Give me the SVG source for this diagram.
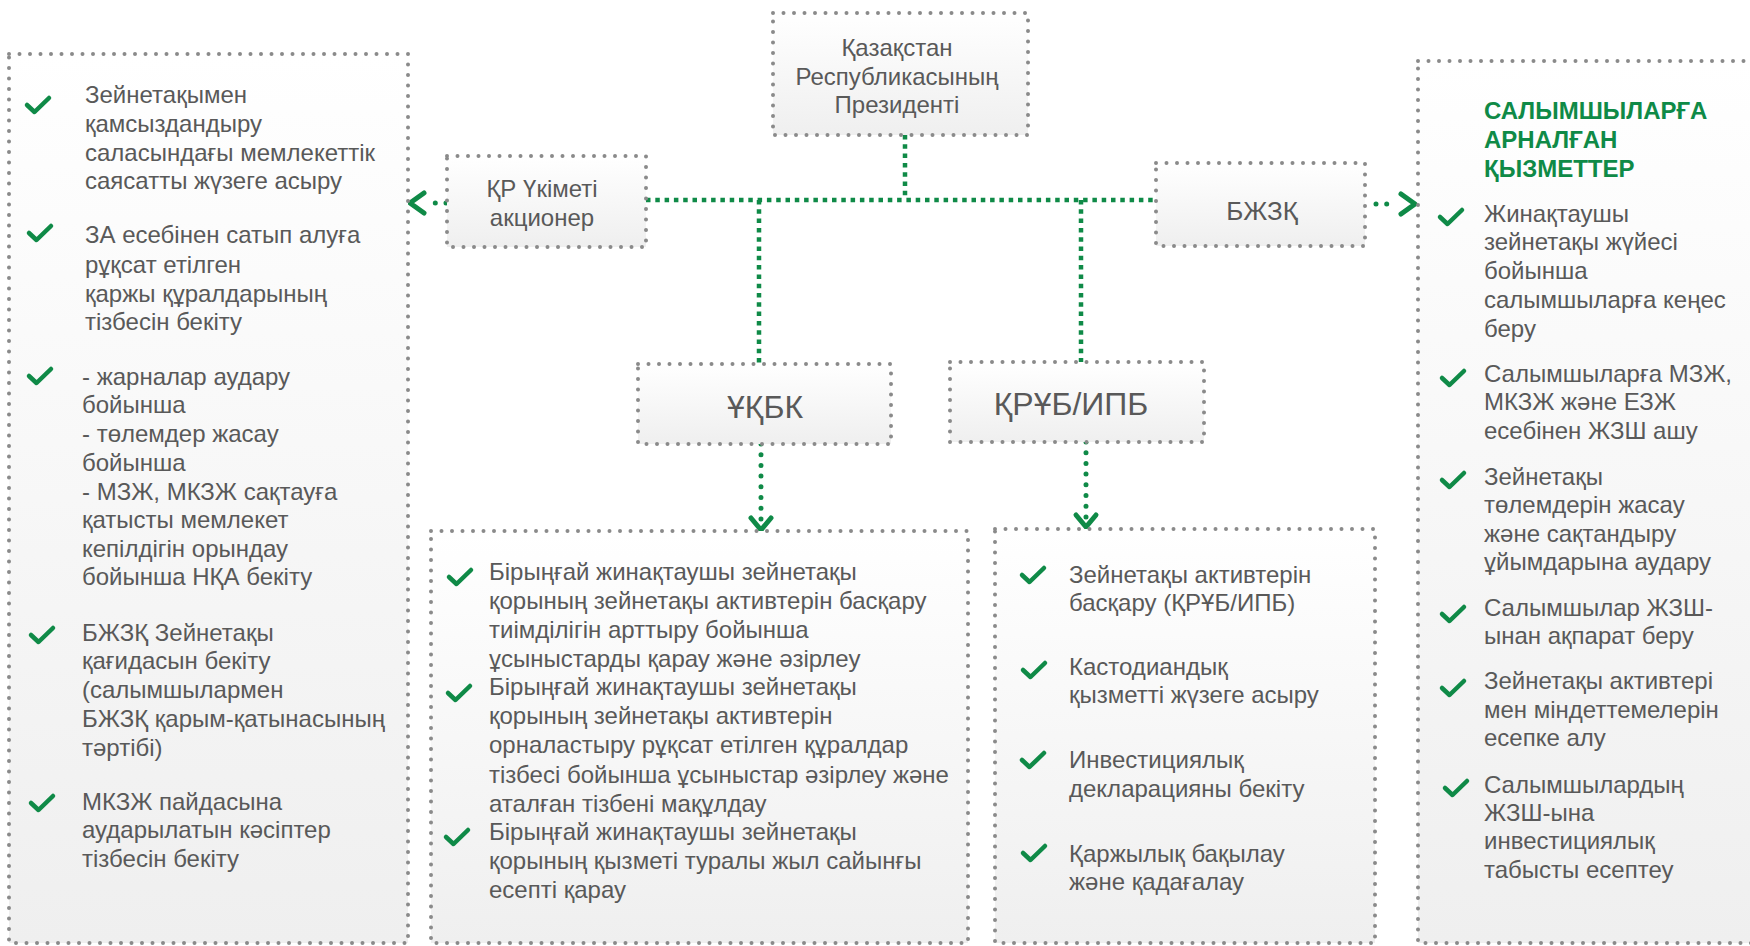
<svg xmlns="http://www.w3.org/2000/svg" xmlns:xlink="http://www.w3.org/1999/xlink" width="1750" height="946" viewBox="0 0 1750 946">
  <defs>
    <linearGradient id="boxFill" x1="0" y1="0" x2="0" y2="1">
      <stop offset="0" stop-color="#ffffff"/>
      <stop offset="1" stop-color="#efefef"/>
    </linearGradient>
    <marker id="chevOut" viewBox="-2 -13 24 26" refX="0" refY="0" markerWidth="24" markerHeight="26" markerUnits="userSpaceOnUse" orient="auto" overflow="visible">
      <path d="M4,-10 L18,0 L4,10" fill="none" stroke="#0f8a47" stroke-width="5" stroke-linecap="round" stroke-linejoin="round"/>
    </marker>
    <marker id="chevIn" viewBox="-16 -13 20 26" refX="0" refY="0" markerWidth="20" markerHeight="26" markerUnits="userSpaceOnUse" orient="auto" overflow="visible">
      <path d="M-12,-10 L0,0 L-12,10" fill="none" stroke="#0f8a47" stroke-width="5" stroke-linecap="round" stroke-linejoin="round"/>
    </marker>
    <path id="chk" d="M2,10 L9.5,17 L24,3" fill="none" stroke="#0f8a47" stroke-width="4.5" stroke-linecap="round" stroke-linejoin="round"/>
  </defs>
  <style>
    .box { fill: url(#boxFill); stroke: #8a8a8a; stroke-width: 4; stroke-linecap: round; stroke-dasharray: 0 10.5; }
    .t { font-family: "Liberation Sans", Arial, sans-serif; font-size: 24px; fill: #595959; }
    .c { text-anchor: middle; }
    .big { font-size: 32px; }
    .mid { font-size: 26px; }
    .hd { font-weight: bold; fill: #0f8a47; }
    .link { fill: none; stroke: #0f8a47; stroke-width: 4.5; stroke-dasharray: 4.5 4.8; }
    .arr { fill: none; stroke: #0f8a47; stroke-width: 5; stroke-linecap: round; stroke-dasharray: 0 10.7; }
  </style>

  <rect width="1750" height="946" fill="#ffffff"/>

  <g id="connectors">
    <path class="link" d="M646,200 H1156"/>
    <path class="link" d="M905,135 V200"/>
    <path class="link" d="M759,200 V364"/>
    <path class="link" d="M1081,200 V362"/>
    <path class="arr" d="M446,203 H428" marker-end="url(#chevOut)"/>
    <path class="arr" d="M1376,204 H1397" marker-end="url(#chevOut)"/>
    <path class="arr" d="M761,444 V530" marker-end="url(#chevIn)"/>
    <path class="arr" d="M1086,442 V527" marker-end="url(#chevIn)"/>
  </g>

  <g id="president">
    <rect class="box" x="773" y="13" width="255" height="122"/>
    <text class="t c" x="897" y="56">Қазақстан</text>
    <text class="t c" x="897" y="85">Республикасының</text>
    <text class="t c" x="897" y="113">Президенті</text>
  </g>

  <g id="government">
    <rect class="box" x="447" y="156" width="199" height="91"/>
    <text class="t c" x="542" y="197">ҚР Үкіметі</text>
    <text class="t c" x="542" y="226">акционер</text>
  </g>

  <g id="bjzk">
    <rect class="box" x="1156" y="163" width="209" height="83"/>
    <text class="t c mid" x="1262" y="220">БЖЗҚ</text>
  </g>

  <g id="ukbk">
    <rect class="box" x="638" y="364" width="253" height="80"/>
    <text class="t c big" x="765" y="418">ҰҚБК</text>
  </g>

  <g id="krub">
    <rect class="box" x="950" y="362" width="254" height="80"/>
    <text class="t c big" x="1071" y="415">ҚРҰБ/ИПБ</text>
  </g>

  <g id="left-list">
    <rect class="box" x="9" y="54" width="399" height="889"/>
    <use href="#chk" x="25" y="95"/>
    <use href="#chk" x="27" y="223"/>
    <use href="#chk" x="27" y="366"/>
    <use href="#chk" x="29" y="625"/>
    <use href="#chk" x="29" y="793"/>
    <text class="t" x="85" y="103">Зейнетақымен</text>
    <text class="t" x="85" y="132">қамсыздандыру</text>
    <text class="t" x="85" y="161">саласындағы мемлекеттік</text>
    <text class="t" x="85" y="189">саясатты жүзеге асыру</text>
    <text class="t" x="85" y="243">ЗА есебінен сатып алуға</text>
    <text class="t" x="85" y="273">рұқсат етілген</text>
    <text class="t" x="85" y="302">қаржы құралдарының</text>
    <text class="t" x="85" y="330">тізбесін бекіту</text>
    <text class="t" x="82" y="385">- жарналар аудару</text>
    <text class="t" x="82" y="413">бойынша</text>
    <text class="t" x="82" y="442">- төлемдер жасау</text>
    <text class="t" x="82" y="471">бойынша</text>
    <text class="t" x="82" y="500">- МЗЖ, МКЗЖ сақтауға</text>
    <text class="t" x="82" y="528">қатысты мемлекет</text>
    <text class="t" x="82" y="557">кепілдігін орындау</text>
    <text class="t" x="82" y="585">бойынша НҚА бекіту</text>
    <text class="t" x="82" y="641">БЖЗҚ Зейнетақы</text>
    <text class="t" x="82" y="669">қағидасын бекіту</text>
    <text class="t" x="82" y="698">(салымшылармен</text>
    <text class="t" x="82" y="727">БЖЗҚ қарым-қатынасының</text>
    <text class="t" x="82" y="756">тәртібі)</text>
    <text class="t" x="82" y="810">МКЗЖ пайдасына</text>
    <text class="t" x="82" y="838">аударылатын кәсіптер</text>
    <text class="t" x="82" y="867">тізбесін бекіту</text>
  </g>

  <g id="ukbk-list">
    <rect class="box" x="431" y="531" width="537" height="412"/>
    <use href="#chk" x="447" y="567"/>
    <use href="#chk" x="446" y="683"/>
    <use href="#chk" x="444" y="827"/>
    <text class="t" x="489" y="580">Бірыңғай жинақтаушы зейнетақы</text>
    <text class="t" x="489" y="609">қорының зейнетақы активтерін басқару</text>
    <text class="t" x="489" y="638">тиімділігін арттыру бойынша</text>
    <text class="t" x="489" y="667">ұсыныстарды қарау және әзірлеу</text>
    <text class="t" x="489" y="695">Бірыңғай жинақтаушы зейнетақы</text>
    <text class="t" x="489" y="724">қорының зейнетақы активтерін</text>
    <text class="t" x="489" y="753">орналастыру рұқсат етілген құралдар</text>
    <text class="t" x="489" y="783">тізбесі бойынша ұсыныстар әзірлеу және</text>
    <text class="t" x="489" y="812">аталған тізбені мақұлдау</text>
    <text class="t" x="489" y="840">Бірыңғай жинақтаушы зейнетақы</text>
    <text class="t" x="489" y="869">қорының қызметі туралы жыл сайынғы</text>
    <text class="t" x="489" y="898">есепті қарау</text>
  </g>

  <g id="krub-list">
    <rect class="box" x="995" y="529" width="380" height="414"/>
    <use href="#chk" x="1020" y="565"/>
    <use href="#chk" x="1021" y="660"/>
    <use href="#chk" x="1020" y="750"/>
    <use href="#chk" x="1021" y="843"/>
    <text class="t" x="1069" y="583">Зейнетақы активтерін</text>
    <text class="t" x="1069" y="611">басқару (ҚРҰБ/ИПБ)</text>
    <text class="t" x="1069" y="675">Кастодиандық</text>
    <text class="t" x="1069" y="703">қызметті жүзеге асыру</text>
    <text class="t" x="1069" y="768">Инвестициялық</text>
    <text class="t" x="1069" y="797">декларацияны бекіту</text>
    <text class="t" x="1069" y="862">Қаржылық бақылау</text>
    <text class="t" x="1069" y="890">және қадағалау</text>
  </g>

  <g id="services-list">
    <rect class="box" x="1418" y="61" width="345" height="882"/>
    <text class="t hd" x="1484" y="119">САЛЫМШЫЛАРҒА</text>
    <text class="t hd" x="1484" y="148">АРНАЛҒАН</text>
    <text class="t hd" x="1484" y="177">ҚЫЗМЕТТЕР</text>
    <use href="#chk" x="1438" y="207"/>
    <use href="#chk" x="1440" y="368"/>
    <use href="#chk" x="1440" y="470"/>
    <use href="#chk" x="1440" y="604"/>
    <use href="#chk" x="1440" y="678"/>
    <use href="#chk" x="1443" y="778"/>
    <text class="t" x="1484" y="222">Жинақтаушы</text>
    <text class="t" x="1484" y="250">зейнетақы жүйесі</text>
    <text class="t" x="1484" y="279">бойынша</text>
    <text class="t" x="1484" y="308">салымшыларға кеңес</text>
    <text class="t" x="1484" y="337">беру</text>
    <text class="t" x="1484" y="382">Салымшыларға МЗЖ,</text>
    <text class="t" x="1484" y="410">МКЗЖ және ЕЗЖ</text>
    <text class="t" x="1484" y="439">есебінен ЖЗШ ашу</text>
    <text class="t" x="1484" y="485">Зейнетақы</text>
    <text class="t" x="1484" y="513">төлемдерін жасау</text>
    <text class="t" x="1484" y="542">және сақтандыру</text>
    <text class="t" x="1484" y="570">ұйымдарына аудару</text>
    <text class="t" x="1484" y="616">Салымшылар ЖЗШ-</text>
    <text class="t" x="1484" y="644">ынан ақпарат беру</text>
    <text class="t" x="1484" y="689">Зейнетақы активтері</text>
    <text class="t" x="1484" y="718">мен міндеттемелерін</text>
    <text class="t" x="1484" y="746">есепке алу</text>
    <text class="t" x="1484" y="793">Салымшылардың</text>
    <text class="t" x="1484" y="821">ЖЗШ-ына</text>
    <text class="t" x="1484" y="849">инвестициялық</text>
    <text class="t" x="1484" y="878">табысты есептеу</text>
  </g>
</svg>
